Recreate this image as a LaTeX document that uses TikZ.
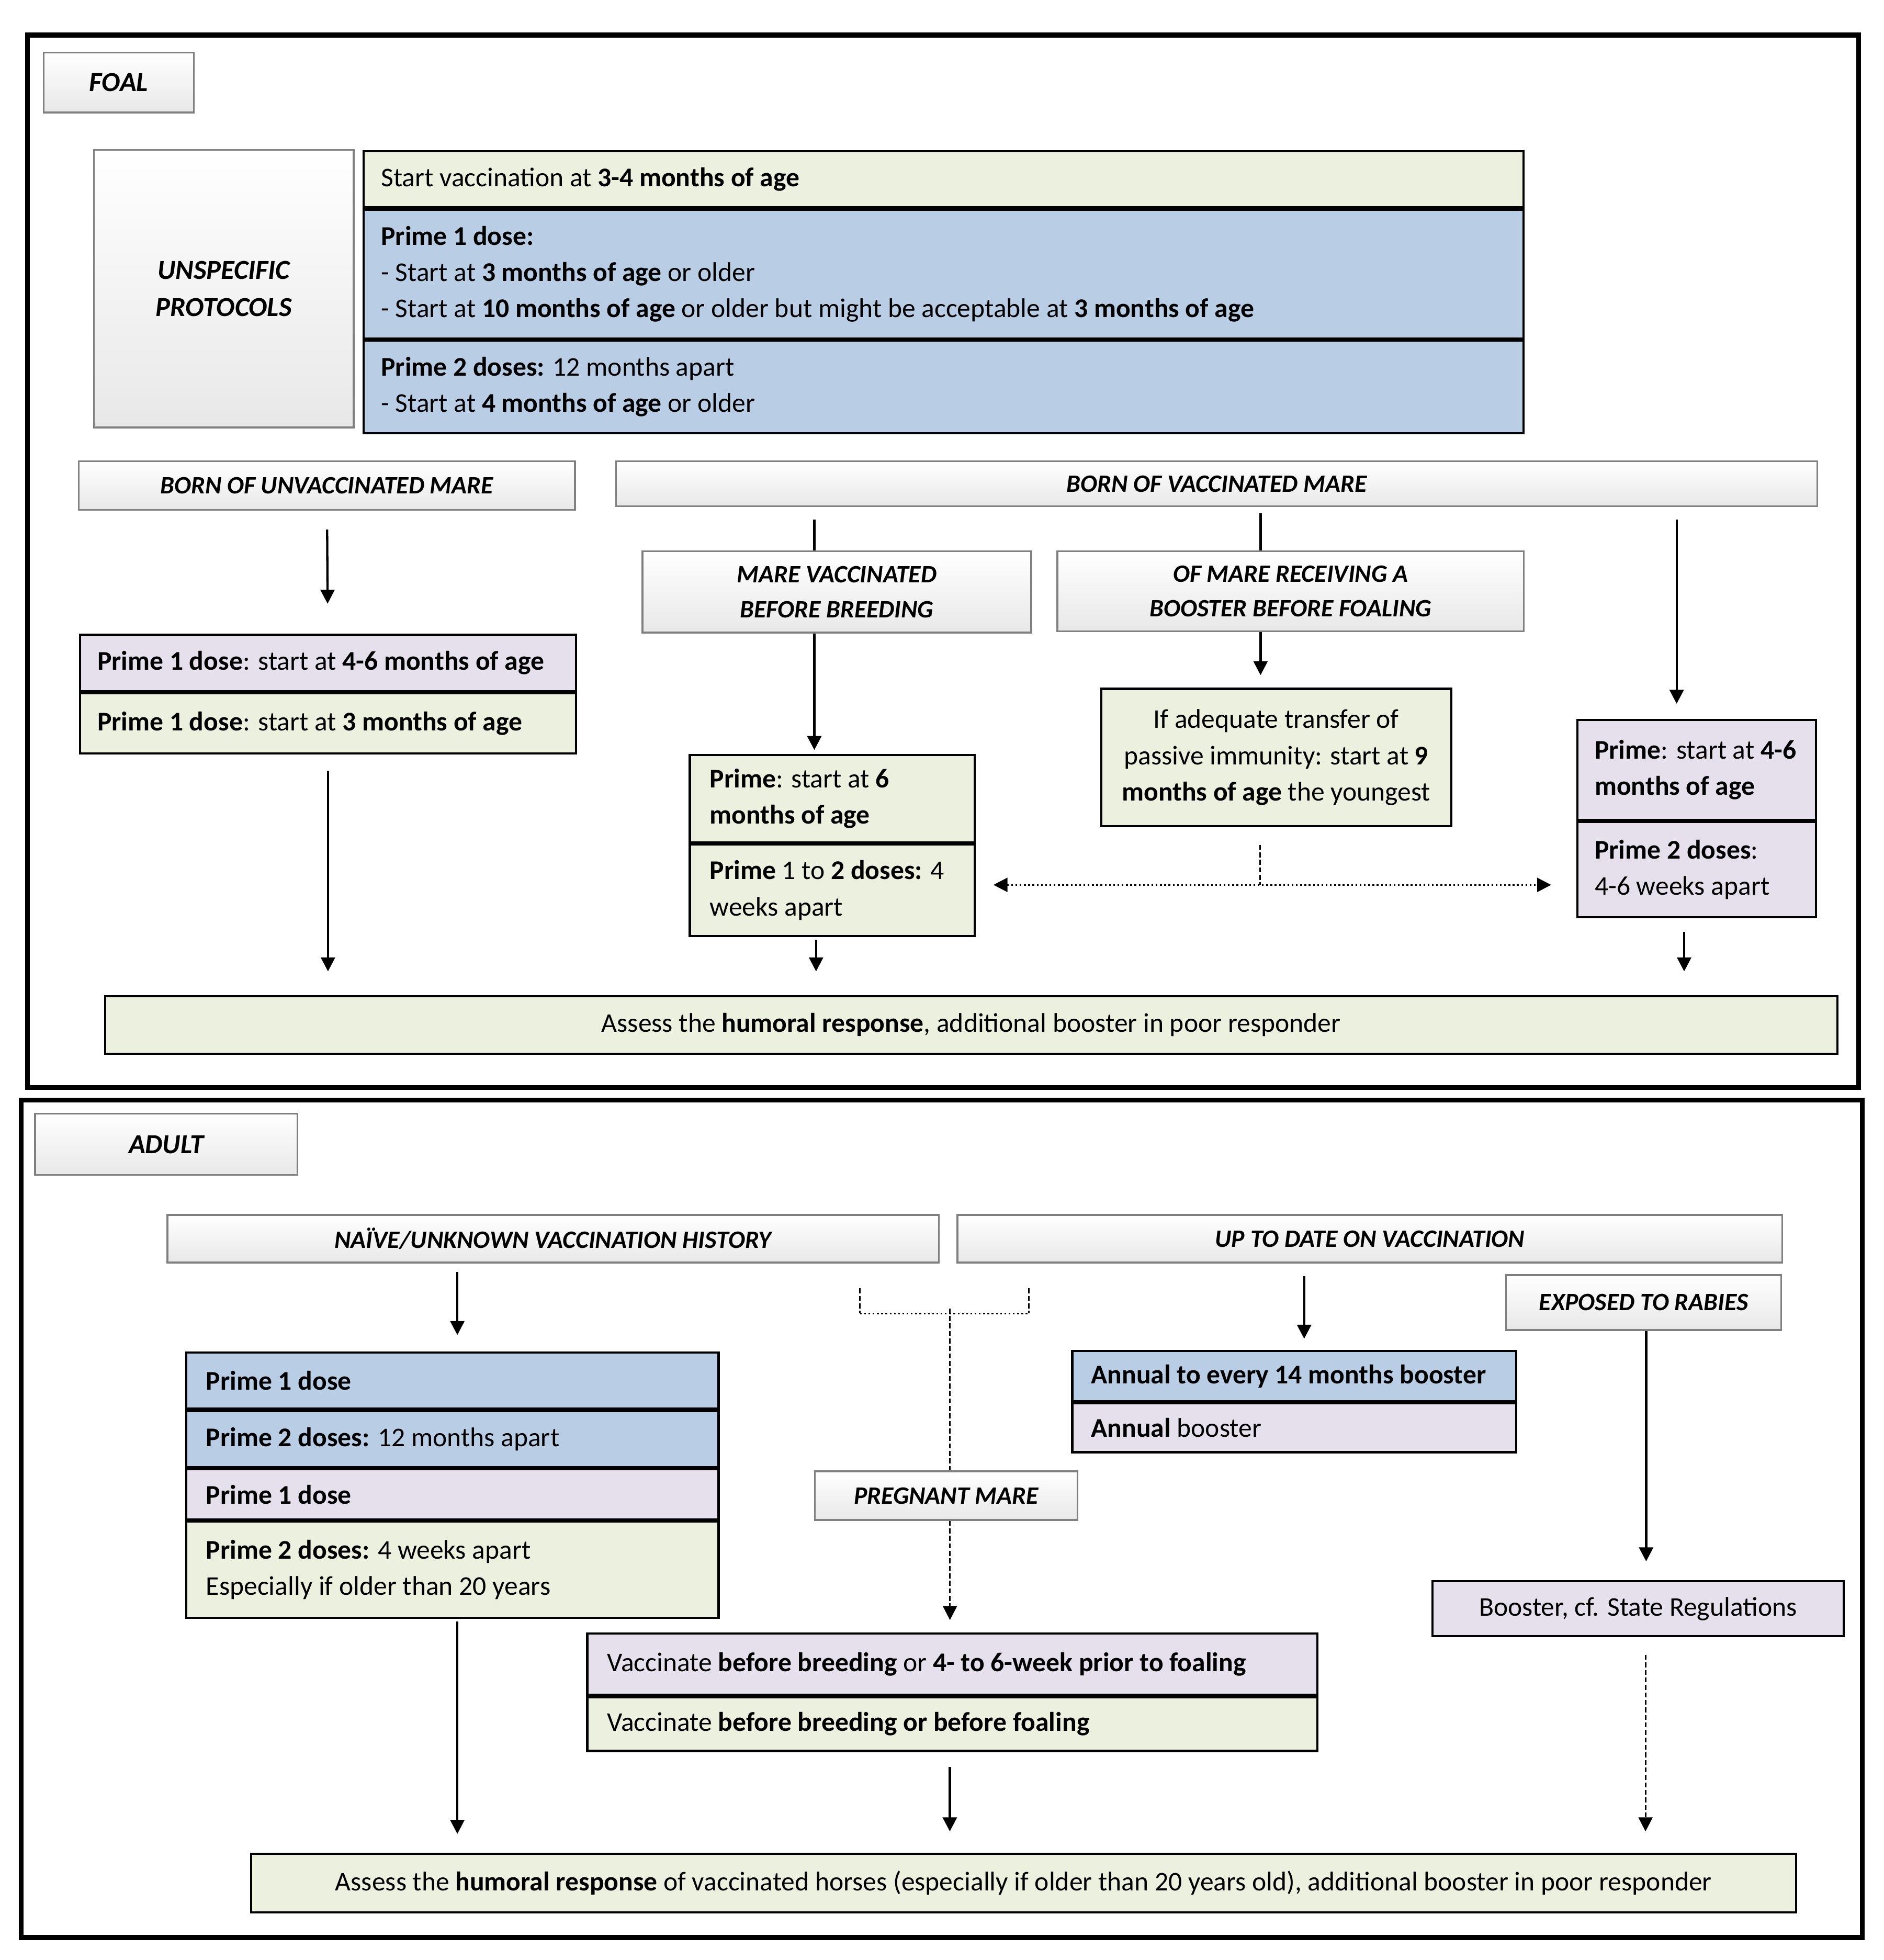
\documentclass[tikz,border=0pt]{standalone}
\usepackage{fontspec}
\setmainfont{Carlito}
\usepackage{tikz}
\usetikzlibrary{arrows.meta,positioning}
\definecolor{INK}{RGB}{0,0,0}
\definecolor{EDGE}{RGB}{128,128,128}
\definecolor{LEAF}{RGB}{235,241,222}
\definecolor{SKY}{RGB}{185,205,229}
\definecolor{LILAC}{RGB}{229,224,236}

\begin{document}
\begin{tikzpicture}[x=0.5pt,y=-0.5pt,font=\fontsize{10.8}{14.5}\selectfont,>={Triangle[length=5.6pt,width=5.6pt]}]
    \tikzset{hdr/.style={draw=EDGE,line width=0.7pt,top color=white,bottom color=black!9,align=center,inner sep=0pt,font=\fontsize{10}{14}\selectfont\bfseries\itshape},
      hdrbig/.style={hdr,font=\fontsize{11}{15}\selectfont\bfseries\itshape},
      cell/.style={draw=INK,line width=0.9pt,align=left,inner xsep=7pt,inner ysep=0pt,execute at begin node={\spaceskip=0pt\xspaceskip=0pt}},
      boxline/.style={draw=INK,line width=2pt},
      link/.style={INK,line width=0.9pt},
      dsh/.style={link,line width=0.7pt,dash pattern=on 2pt off 1pt}}
    \useasboundingbox (0,0) rectangle (1507,1568);
    \draw[boxline] (22,28) rectangle (1487,870);
    \draw[boxline] (17,880) rectangle (1490,1550);
    % foal
    \node[hdrbig,minimum width=60pt,minimum height=24pt] (foal) at (95,66) {FOAL};
    \node[hdrbig,minimum width=104pt,minimum height=111pt] (unsp) at (179,231) {UNSPECIFIC\\PROTOCOLS};
    \node[cell,fill=LEAF,text width=450pt,minimum height=22.5pt,anchor=north west] (ta) at (290,120) {Start vaccination at \textbf{3-4 months of age}};
    \node[cell,fill=SKY,text width=450pt,minimum height=51.5pt,below=0pt of ta] (tb) {\textbf{Prime 1 dose:}\\- Start at \textbf{3 months of age} or older\\- Start at \textbf{10 months of age} or older but might be acceptable at \textbf{3 months of age}};
    \node[cell,fill=SKY,text width=450pt,minimum height=37pt,below=0pt of tb] (tc) {\textbf{Prime 2 doses:} 12 months apart\\- Start at \textbf{4 months of age} or older};
    \node[hdr,minimum width=198.5pt,minimum height=19.5pt] (bu) at (261.5,388.5) {BORN OF UNVACCINATED MARE};
    \node[hdr,minimum width=480.5pt,minimum height=18pt] (bv) at (973.5,387) {BORN OF VACCINATED MARE};
    \node[hdr,minimum width=155.5pt,minimum height=32.5pt] (mvb) at (669.5,473.5) {MARE VACCINATED\\BEFORE BREEDING};
    \node[hdr,minimum width=186.5pt,minimum height=32pt] (omr) at (1032.5,473) {OF MARE RECEIVING A\\BOOSTER BEFORE FOALING};
    \node[cell,fill=LILAC,text width=184.5pt,minimum height=22.5pt,anchor=north west] (lfa) at (63,507) {\textbf{Prime 1 dose}: start at \textbf{4-6 months of age}};
    \node[cell,fill=LEAF,text width=184.5pt,minimum height=24pt,below=0pt of lfa] (lfb) {\textbf{Prime 1 dose}: start at \textbf{3 months of age}};
    \node[cell,fill=LEAF,inner xsep=8pt,text width=98pt,minimum height=35pt,anchor=north west] (mta) at (551,603) {\textbf{Prime}: start at \textbf{6}\\\textbf{months of age}};
    \node[cell,fill=LEAF,inner xsep=8pt,text width=98pt,minimum height=36.5pt,below=0pt of mta] (mtb) {\textbf{Prime} 1 to \textbf{2 doses:} 4\\weeks apart};
    \node[cell,fill=LEAF,align=center,minimum width=140pt,minimum height=55pt] (ifa) at (1021,606) {If adequate transfer of\\passive immunity: start at \textbf{9}\\\textbf{months of age} the youngest};
    \node[cell,fill=LILAC,inner xsep=7pt,text width=81.5pt,minimum height=40pt,anchor=north west] (rta) at (1261,575) {\textbf{Prime}: start at \textbf{4-6}\\\textbf{months of age}};
    \node[cell,fill=LILAC,inner xsep=7pt,text width=81.5pt,minimum height=38pt,below=0pt of rta] (rtb) {\textbf{Prime 2 doses}:\\4-6 weeks apart};
    \node[cell,fill=LEAF,align=center,minimum width=693pt,minimum height=23pt] (af) at (777,820) {Assess the \textbf{humoral response}, additional booster in poor responder};
    \draw[link,->,shorten <=7.5pt,shorten >=12pt] (bu) -- (lfa);
    \draw[link,->,shorten <=6.5pt,shorten >=9.5pt] (lfb) -- (lfb |- af.north);
    \draw[link,shorten <=5pt] ([xshift=-9pt]mvb.north |- bv.south) -- ([xshift=-9pt]mvb.north);
    \draw[link,shorten <=2.5pt] ([xshift=-12pt]omr.north |- bv.south) -- ([xshift=-12pt]omr.north);
    \draw[link,->,shorten <=5pt,shorten >=6pt] ([xshift=-8pt]rta.north |- bv.south) -- ([xshift=-8pt]rta.north);
    \draw[link,->,shorten >=1.5pt] ([xshift=-9pt]mvb.south) -- ([xshift=-9pt]mvb.south |- mta.north);
    \draw[link,->,shorten >=5pt] ([xshift=-12pt]omr.south) -- ([xshift=-12pt]omr.south |- ifa.north);
    \draw[link,->,shorten <=1pt,shorten >=9.5pt] ([xshift=-6.5pt]mtb.south) -- ([xshift=-6.5pt]mtb.south |- af.north);
    \draw[link,->,shorten <=5.5pt,shorten >=9.5pt] ([xshift=-5pt]rtb.south) -- ([xshift=-5pt]rtb.south |- af.north);
    \coordinate (split) at ([xshift=-6.5pt,yshift=-23pt]ifa.south);
    \draw[dsh,shorten <=7pt] ([xshift=-6.5pt]ifa.south) -- (split);
    \draw[link,line width=0.7pt,densely dotted,<->,shorten <=7pt,shorten >=10pt] (mtb.east |- split) -- (rtb.west |- split);
    % adult
    \node[hdrbig,minimum width=105pt,minimum height=24.5pt] (adult) at (133,915.5) {ADULT};
    \node[hdr,minimum width=308.5pt,minimum height=19pt] (nv) at (442.5,991) {NAÏVE/UNKNOWN VACCINATION HISTORY};
    \node[hdr,minimum width=330pt,minimum height=19pt] (ud) at (1096,991) {UP TO DATE ON VACCINATION};
    \node[hdr,minimum width=110pt,minimum height=22pt] (ex) at (1315,1042) {EXPOSED TO RABIES};
    \node[hdr,minimum width=105pt,minimum height=19.5pt] (pm) at (757,1196.5) {PREGNANT MARE};
    \node[cell,fill=SKY,inner xsep=8pt,text width=197pt,minimum height=22.5pt,anchor=north west] (ala) at (148,1081) {\textbf{Prime 1 dose}};
    \node[cell,fill=SKY,inner xsep=8pt,text width=197pt,minimum height=22.5pt,below=0pt of ala] (alb) {\textbf{Prime 2 doses:} 12 months apart};
    \node[cell,fill=LILAC,inner xsep=8pt,text width=197pt,minimum height=20pt,below=0pt of alb] (alc) {\textbf{Prime 1 dose}};
    \node[cell,fill=LEAF,inner xsep=8pt,text width=197pt,minimum height=38.5pt,below=0pt of alc] (ald) {\textbf{Prime 2 doses:} 4 weeks apart\\Especially if older than 20 years};
    \node[cell,fill=SKY,inner xsep=7.5pt,text width=162.5pt,minimum height=20pt,anchor=north west] (bta) at (857,1080) {\textbf{Annual to every 14 months booster}};
    \node[cell,fill=LILAC,inner xsep=7.5pt,text width=162.5pt,minimum height=19.5pt,below=0pt of bta] (btb) {\textbf{Annual} booster};
    \node[cell,fill=LILAC,inner xsep=8pt,text width=276pt,minimum height=24.5pt,anchor=north west] (pta) at (469,1306) {Vaccinate \textbf{before breeding} or \textbf{4- to 6-week prior to foaling}};
    \node[cell,fill=LEAF,inner xsep=8pt,text width=276pt,minimum height=21.5pt,below=0pt of pta] (ptb) {Vaccinate \textbf{before breeding or before foaling}};
    \node[cell,fill=LILAC,align=center,minimum width=164.5pt,minimum height=22pt] (sr) at (1310.5,1287) {Booster, cf. State Regulations};
    \node[cell,fill=LEAF,align=center,minimum width=618pt,minimum height=23.5pt] (aa) at (819,1506.5) {Assess the \textbf{humoral response} of vaccinated horses (especially if older than 20 years old), additional booster in poor responder};
    \draw[link,->,shorten <=3.5pt,shorten >=6.5pt] ([xshift=2pt]ala.north |- nv.south) -- ([xshift=2pt]ala.north);
    \draw[link,->,shorten <=1pt,shorten >=7.5pt] ([xshift=2pt]ald.south) -- ([xshift=2pt]ald.south |- aa.north);
    \coordinate (brl) at ([xshift=-34.5pt,yshift=-10pt]pm.north |- ud.south);
    \coordinate (brr) at ([xshift=33pt,yshift=-10pt]pm.north |- ud.south);
    \draw[dsh] (brl) -- ++(0,20); \draw[dsh] (brr) -- ++(0,20);
    \draw[link,line width=0.7pt,densely dotted] ([yshift=-10pt]brl) -- ([yshift=-10pt]brr);
    \draw[dsh] ([xshift=1.5pt,yshift=-18pt]pm.north |- ud.south) -- ([xshift=1.5pt]pm.north);
    \draw[dsh,->,shorten >=5pt] ([xshift=1.5pt]pm.south) -- ([xshift=1.5pt]pm.south |- pta.north);
    \draw[link,->,shorten <=6pt,shorten >=8.5pt] ([xshift=-1pt]ptb.south) -- ([xshift=-1pt]ptb.south |- aa.north);
    \draw[link,->,shorten <=5pt,shorten >=4.5pt] ([xshift=4pt]bta.north |- ud.south) -- ([xshift=4pt]bta.north);
    \draw[link,->,shorten >=7.5pt] ([xshift=1pt]ex.south) -- ([xshift=1pt]ex.south |- sr.north);
    \draw[dsh,->,shorten <=7pt,shorten >=8.5pt] ([xshift=3pt]sr.south) -- ([xshift=3pt]sr.south |- aa.north);
  \end{tikzpicture}
\end{document}
